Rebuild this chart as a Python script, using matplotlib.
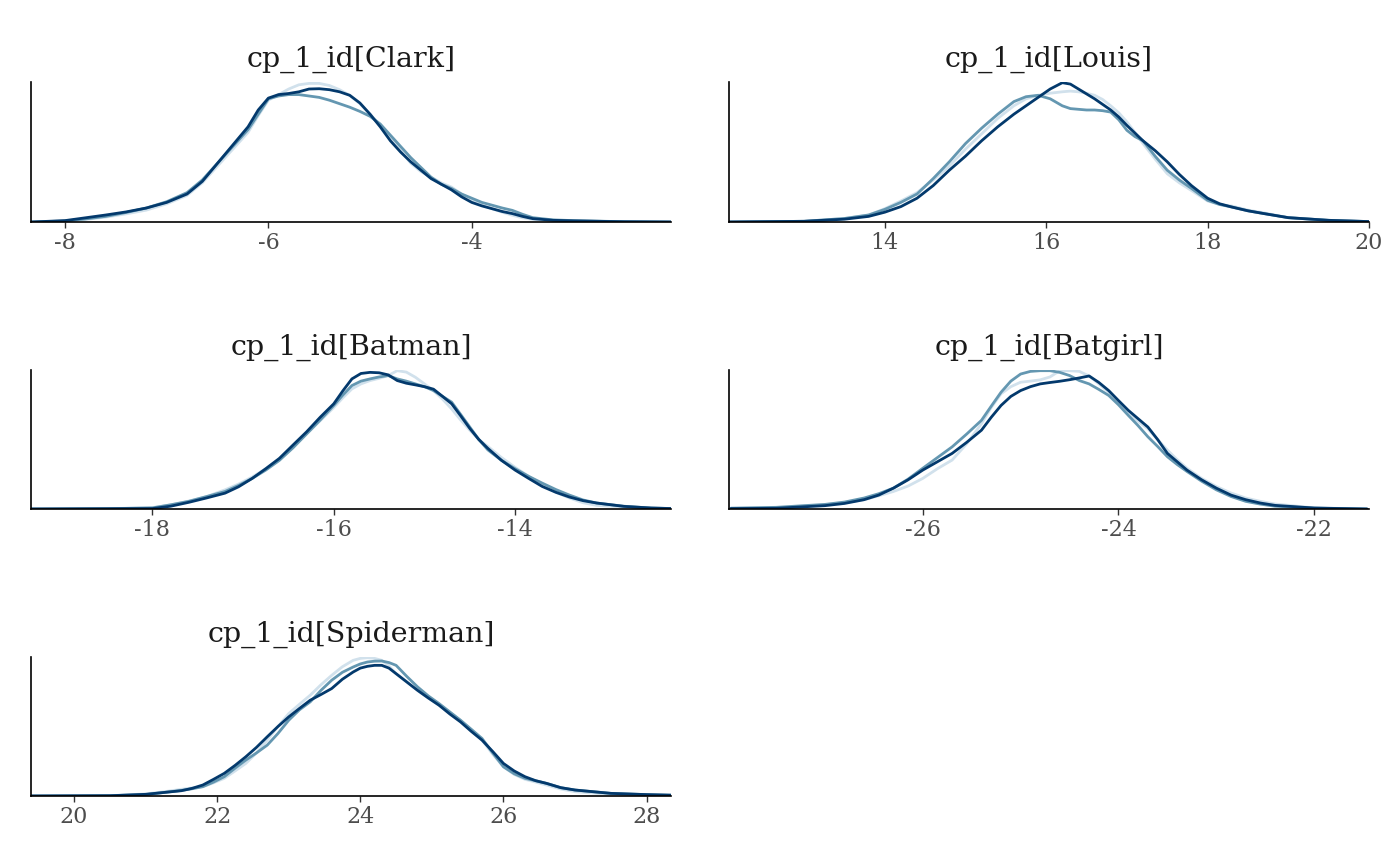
import matplotlib
matplotlib.use("Agg")
import matplotlib.pyplot as plt

# density heights, as a fraction of the panel height
titles = ["cp_1_id[Clark]", "cp_1_id[Louis]", "cp_1_id[Batman]",
          "cp_1_id[Batgirl]", "cp_1_id[Spiderman]"]
chain_colors = ["#d1e1ec", "#6497b1", "#03396c"]

clark_x = [-8.33, -8.0, -7.8, -7.6, -7.4, -7.2, -7.0, -6.8, -6.65, -6.5, -6.35, -6.2, -6.1,
           -6.0, -5.9, -5.8, -5.7, -5.6, -5.5, -5.4, -5.3, -5.2, -5.1, -5.0, -4.9, -4.8,
           -4.7, -4.6, -4.5, -4.4, -4.3, -4.2, -4.1, -4.0, -3.9, -3.8, -3.7, -3.6, -3.5,
           -3.4, -3.2, -3.0, -2.5, -2.04]
clark_light = [0.0, 0.005, 0.018, 0.035, 0.058, 0.085, 0.13, 0.19, 0.28, 0.40, 0.52, 0.64,
               0.76, 0.87, 0.91, 0.95, 0.98, 0.99, 0.99, 0.975, 0.945, 0.905, 0.845, 0.77,
               0.69, 0.61, 0.51, 0.42, 0.36, 0.32, 0.28, 0.25, 0.20, 0.155, 0.12, 0.095,
               0.07, 0.048, 0.03, 0.019, 0.01, 0.007, 0.002, 0.0]
clark_mid = [0.0, 0.007, 0.022, 0.04, 0.068, 0.10, 0.145, 0.21, 0.30, 0.42, 0.54, 0.66,
             0.77, 0.88, 0.90, 0.91, 0.91, 0.90, 0.89, 0.87, 0.845, 0.82, 0.79, 0.755,
             0.70, 0.62, 0.54, 0.46, 0.39, 0.32, 0.27, 0.24, 0.20, 0.17, 0.14, 0.12, 0.10,
             0.083, 0.055, 0.031, 0.015, 0.01, 0.002, 0.0]
clark_dark = [0.0, 0.01, 0.03, 0.05, 0.072, 0.10, 0.14, 0.20, 0.29, 0.42, 0.55, 0.68, 0.80,
              0.885, 0.91, 0.918, 0.93, 0.95, 0.952, 0.945, 0.93, 0.905, 0.85, 0.77, 0.68,
              0.58, 0.50, 0.43, 0.37, 0.31, 0.27, 0.23, 0.18, 0.14, 0.115, 0.095, 0.075,
              0.06, 0.04, 0.024, 0.012, 0.008, 0.002, 0.0]

louis_x = [12.06, 13.0, 13.5, 13.8, 14.0, 14.2, 14.4, 14.6, 14.8, 15.0, 15.2, 15.4, 15.6,
           15.75, 15.9, 16.05, 16.2, 16.3, 16.4, 16.5, 16.6, 16.7, 16.8, 16.9, 17.0, 17.1,
           17.2, 17.35, 17.5, 17.65, 17.8, 18.0, 18.15, 18.3, 18.5, 18.7, 19.0, 19.5, 20.0]
louis_light = [0.0, 0.005, 0.025, 0.05, 0.095, 0.15, 0.21, 0.30, 0.40, 0.52, 0.63, 0.74,
               0.83, 0.88, 0.905, 0.92, 0.93, 0.935, 0.93, 0.92, 0.905, 0.875, 0.83, 0.78,
               0.715, 0.64, 0.56, 0.45, 0.345, 0.28, 0.225, 0.15, 0.125, 0.114, 0.085,
               0.065, 0.031, 0.012, 0.003]
louis_mid = [0.0, 0.005, 0.025, 0.05, 0.09, 0.14, 0.20, 0.31, 0.43, 0.56, 0.67, 0.77, 0.86,
             0.895, 0.905, 0.88, 0.83, 0.81, 0.805, 0.80, 0.80, 0.795, 0.785, 0.73, 0.655,
             0.61, 0.58, 0.47, 0.37, 0.30, 0.24, 0.155, 0.125, 0.107, 0.08, 0.06, 0.031,
             0.012, 0.003]
louis_dark = [0.0, 0.005, 0.02, 0.04, 0.07, 0.11, 0.17, 0.26, 0.37, 0.47, 0.58, 0.68, 0.77,
              0.83, 0.89, 0.95, 0.995, 0.985, 0.95, 0.915, 0.88, 0.84, 0.80, 0.75, 0.69,
              0.635, 0.58, 0.51, 0.43, 0.34, 0.26, 0.17, 0.13, 0.107, 0.08, 0.06, 0.031,
              0.012, 0.003]

batman_x = [-19.37, -18.5, -18.0, -17.8, -17.6, -17.4, -17.2, -17.05, -16.9, -16.75, -16.6,
            -16.45, -16.3, -16.15, -16.0, -15.9, -15.8, -15.7, -15.6, -15.5, -15.4, -15.3,
            -15.2, -15.1, -15.0, -14.9, -14.8, -14.7, -14.6, -14.5, -14.4, -14.3, -14.15,
            -14.0, -13.85, -13.7, -13.55, -13.4, -13.25, -13.1, -12.8, -12.5, -12.2]
batman_light = [0.0, 0.002, 0.01, 0.03, 0.057, 0.09, 0.138, 0.18, 0.23, 0.29, 0.364, 0.45,
                0.54, 0.635, 0.73, 0.80, 0.864, 0.90, 0.924, 0.94, 0.96, 0.995, 0.985,
                0.948, 0.90, 0.852, 0.79, 0.72, 0.64, 0.567, 0.50, 0.45, 0.37, 0.30, 0.235,
                0.174, 0.12, 0.079, 0.045, 0.026, 0.015, 0.007, 0.002]
batman_mid = [0.0, 0.002, 0.008, 0.03, 0.055, 0.09, 0.126, 0.17, 0.22, 0.28, 0.35, 0.44,
              0.54, 0.64, 0.745, 0.82, 0.888, 0.92, 0.936, 0.95, 0.96, 0.936, 0.92, 0.90,
              0.88, 0.852, 0.81, 0.769, 0.68, 0.59, 0.50, 0.425, 0.35, 0.29, 0.235, 0.186,
              0.14, 0.10, 0.065, 0.043, 0.02, 0.007, 0.002]
batman_dark = [0.0, 0.002, 0.003, 0.02, 0.048, 0.08, 0.114, 0.16, 0.22, 0.29, 0.364, 0.46,
               0.555, 0.66, 0.757, 0.85, 0.936, 0.975, 0.983, 0.98, 0.965, 0.924, 0.905,
               0.893, 0.88, 0.862, 0.81, 0.757, 0.67, 0.58, 0.50, 0.436, 0.35, 0.28, 0.22,
               0.162, 0.12, 0.086, 0.06, 0.043, 0.019, 0.007, 0.002]

batgirl_x = [-27.96, -27.5, -27.0, -26.8, -26.6, -26.45, -26.3, -26.15, -26.0, -25.85,
             -25.7, -25.55, -25.4, -25.3, -25.2, -25.1, -25.0, -24.9, -24.8, -24.7, -24.6,
             -24.5, -24.4, -24.3, -24.2, -24.1, -24.0, -23.9, -23.8, -23.7, -23.6, -23.5,
             -23.4, -23.3, -23.15, -23.0, -22.85, -22.7, -22.55, -22.4, -22.0, -21.46]
batgirl_light = [0.004, 0.008, 0.03, 0.045, 0.067, 0.095, 0.126, 0.165, 0.22, 0.29, 0.352,
                 0.47, 0.614, 0.73, 0.829, 0.88, 0.912, 0.92, 0.929, 0.95, 0.995, 0.995,
                 0.99, 0.957, 0.90, 0.84, 0.765, 0.686, 0.63, 0.578, 0.50, 0.424, 0.355,
                 0.293, 0.22, 0.162, 0.115, 0.079, 0.055, 0.036, 0.008, 0.0]
batgirl_mid = [0.006, 0.012, 0.033, 0.05, 0.079, 0.11, 0.15, 0.215, 0.293, 0.37, 0.447,
               0.54, 0.638, 0.74, 0.84, 0.92, 0.971, 0.99, 0.995, 0.995, 0.983, 0.96, 0.924,
               0.90, 0.86, 0.817, 0.75, 0.674, 0.60, 0.52, 0.45, 0.376, 0.32, 0.27, 0.20,
               0.138, 0.09, 0.055, 0.035, 0.02, 0.006, 0.0]
batgirl_dark = [0.003, 0.005, 0.024, 0.04, 0.067, 0.10, 0.15, 0.21, 0.28, 0.34, 0.40, 0.48,
                0.567, 0.66, 0.745, 0.81, 0.852, 0.88, 0.90, 0.91, 0.919, 0.93, 0.943,
                0.957, 0.91, 0.852, 0.78, 0.71, 0.65, 0.59, 0.50, 0.40, 0.34, 0.28, 0.21,
                0.15, 0.10, 0.067, 0.043, 0.026, 0.007, 0.0]

spider_x = [19.38, 20.5, 21.0, 21.25, 21.5, 21.65, 21.8, 21.95, 22.1, 22.25, 22.4, 22.55,
            22.7, 22.85, 23.0, 23.15, 23.3, 23.45, 23.6, 23.75, 23.9, 24.0, 24.1, 24.2,
            24.3, 24.4, 24.5, 24.65, 24.8, 24.95, 25.1, 25.25, 25.4, 25.55, 25.7, 25.85,
            26.0, 26.15, 26.3, 26.45, 26.6, 26.8, 27.0, 27.5, 28.0, 28.41]
spider_light = [0.0, 0.002, 0.015, 0.03, 0.048, 0.058, 0.067, 0.095, 0.127, 0.18, 0.234,
                0.31, 0.402, 0.50, 0.593, 0.66, 0.725, 0.80, 0.868, 0.93, 0.976, 0.99,
                0.995, 0.99, 0.976, 0.935, 0.88, 0.82, 0.76, 0.705, 0.653, 0.60, 0.545,
                0.475, 0.402, 0.30, 0.21, 0.155, 0.12, 0.10, 0.079, 0.05, 0.031, 0.012,
                0.006, 0.004]
spider_mid = [0.0, 0.002, 0.01, 0.025, 0.04, 0.052, 0.067, 0.10, 0.139, 0.20, 0.258, 0.31,
              0.366, 0.45, 0.545, 0.62, 0.677, 0.76, 0.833, 0.89, 0.928, 0.95, 0.964, 0.97,
              0.971, 0.96, 0.94, 0.86, 0.785, 0.72, 0.665, 0.605, 0.545, 0.48, 0.414, 0.31,
              0.21, 0.16, 0.127, 0.11, 0.091, 0.06, 0.043, 0.019, 0.01, 0.005]
spider_dark = [0.0, 0.002, 0.012, 0.025, 0.038, 0.055, 0.079, 0.12, 0.163, 0.22, 0.282,
               0.35, 0.426, 0.50, 0.569, 0.63, 0.689, 0.73, 0.773, 0.84, 0.892, 0.92, 0.933,
               0.94, 0.94, 0.92, 0.88, 0.82, 0.76, 0.705, 0.653, 0.59, 0.533, 0.465, 0.402,
               0.32, 0.234, 0.18, 0.139, 0.11, 0.091, 0.06, 0.043, 0.019, 0.01, 0.005]

panels = [
    (clark_x, [clark_light, clark_mid, clark_dark], (-8.335, -2.04), [-8, -6, -4]),
    (louis_x, [louis_light, louis_mid, louis_dark], (12.07, 20.0), [14, 16, 18, 20]),
    (batman_x, [batman_light, batman_mid, batman_dark], (-19.34, -12.28), [-18, -16, -14]),
    (batgirl_x, [batgirl_light, batgirl_mid, batgirl_dark], (-27.98, -21.44), [-26, -24, -22]),
    (spider_x, [spider_light, spider_mid, spider_dark], (19.40, 28.34), [20, 22, 24, 26, 28]),
]

W, H = 1400, 865
fig = plt.figure(figsize=(14, 8.65), dpi=100)
lefts = [31, 729]
rows = [(82, 222), (370, 509), (657, 796)]

for i, (xs, ys, xlim, ticks) in enumerate(panels):
    col, row = i % 2, i // 2
    top, bot = rows[row]
    ax = fig.add_axes([lefts[col] / W, 1 - bot / H, 640 / W, (bot - top) / H])
    for y, c in zip(ys, chain_colors):
        ax.plot(xs, y, color=c, lw=2.0, solid_capstyle="round", solid_joinstyle="round")
    ax.set_xlim(*xlim)
    ax.set_ylim(0, 1.0)
    ax.set_xticks(ticks)
    ax.set_xticklabels([str(t) for t in ticks], fontsize=16, color="#4d4d4d",
                       family="DejaVu Serif")
    ax.set_yticks([])
    for s in ["top", "right"]:
        ax.spines[s].set_visible(False)
    for s in ["left", "bottom"]:
        ax.spines[s].set_linewidth(1.2)
        ax.spines[s].set_color("black")
    ax.tick_params(axis="x", length=4, width=1, color="#333333", pad=3)
    ax.set_title(titles[i], fontsize=20.5, color="#1a1a1a", pad=11, family="DejaVu Serif")

fig.savefig("out.png", dpi=100)
